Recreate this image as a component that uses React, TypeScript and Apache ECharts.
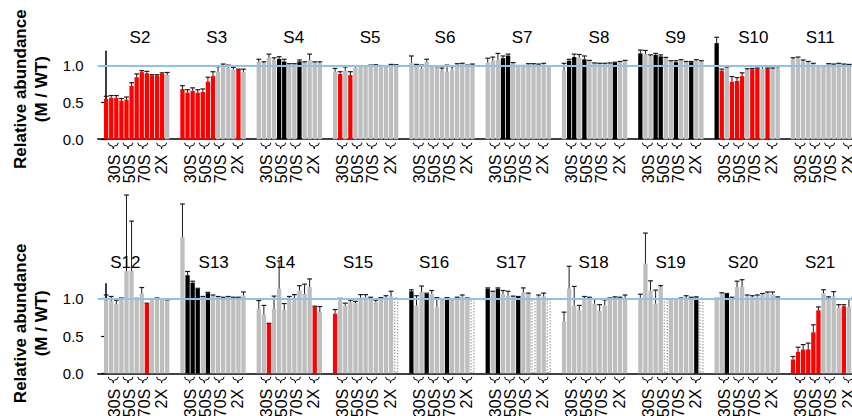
import React, { useEffect, useRef } from 'react';
import * as echarts from 'echarts';

// ---------- data ----------
const TOP_NAMES = ['S2', 'S3', 'S4', 'S5', 'S6', 'S7', 'S8', 'S9', 'S10', 'S11'];
const BOTTOM_NAMES = ['S12', 'S13', 'S14', 'S15', 'S16', 'S17', 'S18', 'S19', 'S20', 'S21'];
const FRACTIONS = ['30S', '50S', '70S', '2X'];
const Y_TICKS = [0, 0.5, 1];
const REFERENCE_LEVEL = 1;

const TOP_VALUES = [
  [0.55, 0.565, 0.565, 0.525, 0.54, 0.725, 0.845, 0.915, 0.9, 0.87, 0.87, 0.895, 0.875],
  [0.685, 0.635, 0.66, 0.635, 0.645, 0.785, 0.86, 0.92, 0.985, 0.975, 0.95, 0.945, 0.92],
  [1.05, 1.035, 1.11, 1.08, 1.095, 1.06, 1.02, 1.02, 1.06, 1.045, 1.08, 1.045, 1.035],
  [0.92, 0.89, 0.935, 0.875, 0.975, 0.985, 0.99, 1.0, 1.005, 0.995, 0.99, 1.01, 1.005],
  [1.045, 1.01, 0.965, 1.055, 0.985, 0.975, 0.94, 0.92, 0.945, 1.02, 1.025, 1.0, 1.015],
  [1.045, 1.07, 1.08, 1.105, 1.14, 1.035, 1.0, 1.0, 1.02, 1.02, 1.015, 1.02, 0.99],
  [0.935, 1.07, 1.12, 1.115, 1.09, 1.065, 1.035, 1.03, 1.03, 1.035, 1.045, 1.05, 1.065],
  [1.17, 1.16, 1.13, 1.15, 1.13, 1.105, 1.06, 1.05, 1.075, 1.05, 1.05, 1.075, 1.06],
  [1.31, 0.935, 0.965, 0.785, 0.795, 0.86, 0.945, 0.955, 0.96, 0.965, 0.96, 0.96, 0.975],
  [1.09, 1.1, 1.06, 1.045, 1.025, 0.99, 0.99, 1.02, 1.015, 1.025, 1.015, 1.01, 1.01],
];
const TOP_ERRORS = [
  [0.035, 0.03, 0.03, 0.03, 0.035, 0.045, 0.045, 0.02, 0.025, 0.01, 0.01, 0.01, 0.035],
  [0.045, 0.04, 0.04, 0.04, 0.04, 0.06, 0.06, 0.07, 0.04, 0.035, 0.03, 0.01, 0.035],
  [0.04, 0.02, 0.05, 0.03, 0.03, 0.03, 0.01, 0.01, 0.02, 0.01, 0.08, 0.01, 0.02],
  [0.045, 0.03, 0.05, 0.045, 0.02, 0.01, 0.01, 0.01, 0.01, 0.01, 0.01, 0.01, 0.01],
  [0.09, 0.01, 0.045, 0.035, 0.015, 0.015, 0.03, 0.09, 0.045, 0.01, 0.01, 0.01, 0.01],
  [0.06, 0.05, 0.09, 0.03, 0.02, 0.01, 0.005, 0.005, 0.01, 0.01, 0.01, 0.015, 0.005],
  [0.1, 0.02, 0.04, 0.04, 0.045, 0.01, 0.005, 0.005, 0.005, 0.005, 0.005, 0.01, 0.01],
  [0.045, 0.05, 0.02, 0.02, 0.02, 0.01, 0.01, 0.02, 0.01, 0.01, 0.01, 0.01, 0.01],
  [0.08, 0.02, 0.02, 0.07, 0.045, 0.045, 0.015, 0.01, 0.01, 0.03, 0.01, 0.01, 0.015],
  [0.02, 0.02, 0.02, 0.015, 0.01, 0.01, 0.01, 0.01, 0.01, 0.01, 0.01, 0.01, 0.01],
];
// r = red, k = black, g = gray, d = dashed outline
const TOP_TYPES = [
  'rrrrrrrrrrrrg',
  'rrrrrrrggggrg',
  'ggggkkggkgggg',
  'grgrggggggggg',
  'ggggggggggggg',
  'gggkkgggggggg',
  'gkkgkgggggkgg',
  'kggkkggkggkgg',
  'krgrrrgrrgrgg',
  'ggggggggggggg',
];

const BOTTOM_VALUES = [
  [0.98, 0.97, 0.93, 0.98, 1.37, 1.37, 1.0, 1.07, 0.93, 0.985, 1.0, 0.99, 0.98],
  [1.83, 1.315, 1.215, 1.13, 1.02, 1.075, 1.04, 1.02, 1.01, 1.02, 1.015, 1.015, 1.045],
  [0.865, 0.79, 0.665, 0.865, 1.135, 0.845, 1.01, 1.01, 1.11, 1.065, 1.155, 0.89, 0.82],
  [0.8, 0.975, 0.91, 0.955, 0.94, 1.015, 1.02, 1.0, 0.955, 0.98, 1.015, 1.03, 1.02],
  [1.1, 0.91, 1.09, 1.065, 1.065, 0.885, 0.98, 1.01, 0.98, 1.01, 1.03, 1.0, 1.01],
  [1.135, 1.09, 1.135, 1.065, 1.04, 1.025, 1.025, 1.085, 1.065, 1.01, 1.03, 1.03, 1.01],
  [0.7, 1.135, 0.91, 0.845, 1.0, 0.985, 0.935, 0.835, 0.91, 1.0, 1.015, 1.0, 1.015],
  [1.015, 1.47, 1.11, 0.935, 1.155, 1.0, 0.985, 0.985, 0.98, 1.0, 1.0, 1.015, 1.02],
  [1.0, 1.065, 1.065, 0.985, 1.155, 1.155, 1.03, 1.02, 1.03, 1.055, 1.075, 1.06, 1.015],
  [0.185, 0.29, 0.32, 0.32, 0.55, 0.845, 1.075, 0.98, 1.03, 0.88, 0.9, 0.89, 1.0],
];
const BOTTOM_ERRORS = [
  [0.07, 0.06, 0.05, 0.03, 1.02, 0.67, 0.005, 0.08, 0.01, 0.01, 0.01, 0.01, 0.005],
  [0.44, 0.05, 0.02, 0.01, 0.01, 0.01, 0.01, 0.01, 0.01, 0.01, 0.005, 0.005, 0.045],
  [0.11, 0.12, 0.005, 0.17, 0.37, 0.09, 0.02, 0.045, 0.065, 0.13, 0.11, 0.01, 0.075],
  [0.055, 0.03, 0.03, 0.025, 0.025, 0.04, 0.035, 0.02, 0.025, 0.035, 0.025, 0.07, 0],
  [0.02, 0.13, 0.08, 0.01, 0.045, 0.13, 0.01, 0.005, 0.01, 0.01, 0.02, 0.01, 0],
  [0.01, 0.01, 0.01, 0.045, 0.06, 0.01, 0.005, 0.06, 0.01, 0, 0.02, 0.045, 0],
  [0.12, 0.3, 0.255, 0.065, 0.03, 0.035, 0.055, 0.085, 0.075, 0.01, 0.01, 0.02, 0.035],
  [0.045, 0.41, 0.13, 0.18, 0.02, 0, 0.01, 0.01, 0.03, 0.04, 0.02, 0.01, 0],
  [0.005, 0.015, 0.005, 0.035, 0.08, 0.1, 0.02, 0.02, 0.02, 0.015, 0.015, 0.03, 0.01],
  [0.04, 0.06, 0.065, 0.085, 0.1, 0.045, 0.045, 0.045, 0.065, 0.04, 0.02, 0.1, 0.02],
];
const BOTTOM_TYPES = [
  'ggggggggrgggg',
  'gkkkgkggggggg',
  'ggrggggggggrg',
  'rgggggggggggd',
  'kggkgggkggggd',
  'kgkgggkggdggd',
  'ggggggggggggg',
  'gggggdgggggkd',
  'ggkgggggggggg',
  'rrrrrrggggrgg',
];

// ---------- layout ----------
const FONT = '"Liberation Sans", Arial, Helvetica, sans-serif';
const SLOTS = 15; // slots per group on the x scale (13 bars + gap)
const X_MIN = -1.66;
const X_MAX = 146.6;
const BAR_W = 4.3;
const BRACKET_POS = [1.4, 4.3, 7.2, 10.9];
const LABEL_POS = [1.55, 4.5, 7.45, 10.85];
const TOP_TITLE_POS = [6.65, 6.73, 6.87, 6.87, 6.6, 6.75, 6.87, 6.88, 7.22, 5.34];
const BOTTOM_TITLE_POS = [3.77, 6.14, 4.18, 4.51, 4.45, 4.59, 5.81, 5.95, 5.17, 5.34];
const GRIDS = [
  { left: 97.7, top: 51.2, height: 88, titleUp: 101.7 },
  { left: 97.7, top: 283.8, height: 89.5, titleUp: 110.8 },
];

const COLORS: Record<string, string> = { r: '#ff0000', k: '#000000', g: '#bebebe' };

function itemStyleFor(t: string) {
  if (t === 'd') {
    return { color: '#ffffff', borderColor: '#a8a8a8', borderWidth: 1.4, borderType: [1.6, 1.4] };
  }
  return { color: COLORS[t] };
}

function panelSeries(
  idx: number,
  names: string[],
  values: number[][],
  errors: number[][],
  types: string[],
  titlePos: number[],
) {
  const bars: any[] = [];
  const errs: number[][] = [];
  values.forEach((grp, g) => {
    grp.forEach((v, i) => {
      const x = g * SLOTS + i;
      bars.push({ value: [x, v], itemStyle: itemStyleFor(types[g][i]) });
      if (errors[g][i] > 0) errs.push([x, v, errors[g][i]]);
    });
  });
  const annots: number[][] = [];
  names.forEach((_, g) => {
    FRACTIONS.forEach((__, f) => {
      annots.push([g * SLOTS + BRACKET_POS[f], g * SLOTS + LABEL_POS[f], f]);
    });
  });
  const titles = names.map((_, g) => [g * SLOTS + titlePos[g], 0, g]);
  const titleUp = GRIDS[idx].titleUp;

  return [
    {
      type: 'bar',
      xAxisIndex: idx,
      yAxisIndex: idx,
      barWidth: BAR_W,
      clip: false,
      z: 2,
      data: bars,
    },
    {
      type: 'custom',
      xAxisIndex: idx,
      yAxisIndex: idx,
      clip: false,
      z: 4,
      data: errs,
      renderItem: (_p: any, api: any) => {
        const x = api.value(0);
        const v = api.value(1);
        const e = api.value(2);
        const p0 = api.coord([x, v]);
        const p1 = api.coord([x, v + e]);
        return {
          type: 'group',
          children: [
            { type: 'line', shape: { x1: p0[0], y1: p0[1], x2: p1[0], y2: p1[1] }, style: { stroke: '#1a1a1a', lineWidth: 1 } },
            { type: 'line', shape: { x1: p1[0] - 2.4, y1: p1[1], x2: p1[0] + 2.4, y2: p1[1] }, style: { stroke: '#1a1a1a', lineWidth: 1.2 } },
          ],
        };
      },
      markLine: {
        silent: true,
        symbol: ['none', 'none'],
        label: { show: false },
        lineStyle: { color: '#8ec3e6', width: 2, type: 'solid' },
        data: [{ yAxis: REFERENCE_LEVEL }],
      },
    },
    {
      type: 'custom',
      xAxisIndex: idx,
      yAxisIndex: idx,
      clip: false,
      z: 4,
      data: annots,
      renderItem: (_p: any, api: any) => {
        const pb = api.coord([api.value(0), 0]);
        const pl = api.coord([api.value(1), 0]);
        const f = api.value(2);
        return {
          type: 'group',
          children: [
            {
              type: 'path',
              x: pb[0],
              y: pb[1] + 3.5,
              shape: { pathData: 'M-5,0 Q-5,3.3 -1.2,3.3 Q0,3.3 0,6.3 Q0,3.3 1.2,3.3 Q5,3.3 5,0' },
              style: { fill: 'none', stroke: '#000', lineWidth: 1 },
            },
            {
              type: 'text',
              x: pl[0],
              y: pl[1] + 15.5,
              rotation: Math.PI / 2,
              style: {
                text: FRACTIONS[f],
                fontFamily: FONT,
                fontSize: 16,
                fill: '#000',
                align: 'right',
                verticalAlign: 'middle',
              },
            },
          ],
        };
      },
    },
    {
      type: 'custom',
      xAxisIndex: idx,
      yAxisIndex: idx,
      clip: false,
      z: 4,
      data: titles,
      renderItem: (_p: any, api: any) => {
        const p = api.coord([api.value(0), 0]);
        return {
          type: 'text',
          x: p[0],
          y: p[1] - titleUp,
          style: {
            text: names[api.value(2)],
            fontFamily: FONT,
            fontSize: 17,
            fill: '#000',
            align: 'center',
            verticalAlign: 'middle',
          },
        };
      },
    },
  ];
}

export default function App() {
  const ref = useRef<HTMLDivElement>(null);
  useEffect(() => {
    if (!ref.current) return;
    const chart = echarts.init(ref.current, null, { renderer: 'svg' });
    const yAxis = GRIDS.map((_, i) => ({
      type: 'value',
      gridIndex: i,
      min: 0,
      max: 1.2,
      axisLine: { show: true, lineStyle: { color: '#000', width: 1.5 } },
      axisTick: { show: true, length: 5, customValues: Y_TICKS, lineStyle: { color: '#000', width: 1.2 } },
      axisLabel: {
        customValues: Y_TICKS,
        formatter: (v: number) => v.toFixed(1),
        fontFamily: FONT,
        fontSize: 15,
        color: '#000',
        margin: 14,
      },
      splitLine: { show: false },
    }));
    const xAxis = GRIDS.map((_, i) => ({
      type: 'value',
      gridIndex: i,
      min: X_MIN,
      max: X_MAX,
      axisLine: { show: true, onZero: false, lineStyle: { color: '#000', width: 1.5 } },
      axisTick: { show: false },
      axisLabel: { show: false },
      splitLine: { show: false },
    }));
    chart.setOption({
      animation: false,
      textStyle: { fontFamily: FONT },
      grid: GRIDS.map((g) => ({ left: g.left, top: g.top, height: g.height, right: 0 })),
      xAxis,
      yAxis,
      graphic: GRIDS.map((g) => ({
        type: 'text',
        x: 31,
        y: g.top + g.height - 50,
        rotation: Math.PI / 2,
        style: {
          text: 'Relative abundance\n(M / WT)',
          fontFamily: FONT,
          fontWeight: 'bold',
          fontSize: 17,
          lineHeight: 21,
          fill: '#000',
          align: 'center',
          verticalAlign: 'middle',
        },
      })),
      series: [
        ...panelSeries(0, TOP_NAMES, TOP_VALUES, TOP_ERRORS, TOP_TYPES, TOP_TITLE_POS),
        ...panelSeries(1, BOTTOM_NAMES, BOTTOM_VALUES, BOTTOM_ERRORS, BOTTOM_TYPES, BOTTOM_TITLE_POS),
      ],
    });
    return () => chart.dispose();
  }, []);
  return (
    <div
      ref={ref}
      style={{ position: 'absolute', left: 0, top: 0, width: 852, height: 416, overflow: 'hidden', background: '#fff' }}
    />
  );
}
